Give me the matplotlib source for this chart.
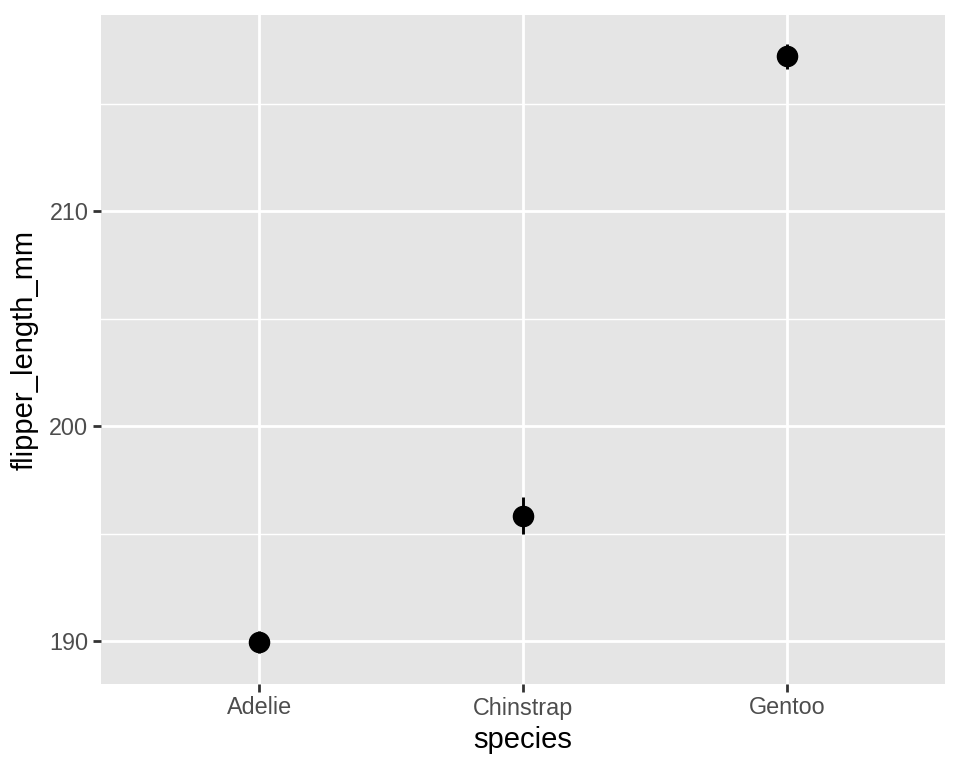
import matplotlib
matplotlib.use("Agg")
import matplotlib.pyplot as plt
from matplotlib.ticker import FixedLocator

# Mean flipper length per species with +/- standard error
species = ["Adelie", "Chinstrap", "Gentoo"]
mean_flipper = [189.95, 195.82, 217.19]
se_flipper = [0.53, 0.86, 0.58]
y_ticks = [190, 200, 210]
y_minor = [195, 205, 215]

plt.rcParams["font.family"] = ["Liberation Sans", "DejaVu Sans"]

fig = plt.figure(figsize=(9.6, 7.68), dpi=100)
ax = fig.add_axes([101 / 960, 1 - 684 / 768, (945 - 101) / 960, (684 - 15) / 768])
ax.set_facecolor("#E5E5E5")

xs = list(range(1, len(species) + 1))
lo = [m - s for m, s in zip(mean_flipper, se_flipper)]
hi = [m + s for m, s in zip(mean_flipper, se_flipper)]
ax.vlines(xs, lo, hi, color="black", linewidth=2.1, zorder=3)
ax.plot(xs, mean_flipper, linestyle="none", marker="o", markersize=14.5,
        color="black", zorder=4)

ax.set_xlim(0.4, 3.6)
ax.set_ylim(188.0, 219.12)
ax.set_xticks(xs)
ax.set_xticklabels(species)
ax.yaxis.set_major_locator(FixedLocator(y_ticks))
ax.yaxis.set_minor_locator(FixedLocator(y_minor))

ax.grid(True, which="major", color="white", linewidth=2.0, zorder=0)
ax.grid(True, which="minor", axis="y", color="white", linewidth=1.0, zorder=0)
ax.set_axisbelow(True)
for spine in ax.spines.values():
    spine.set_visible(False)

ax.tick_params(axis="both", which="major", length=6, width=2.0,
               color="#333333", labelcolor="#4D4D4D", labelsize=16.8, pad=3)
ax.tick_params(axis="both", which="minor", length=0)

ax.set_xlabel("species", fontsize=21, color="black", labelpad=5)
ax.set_ylabel("flipper_length_mm", fontsize=21, color="black", labelpad=8)

fig.savefig("out.png", dpi=100)
